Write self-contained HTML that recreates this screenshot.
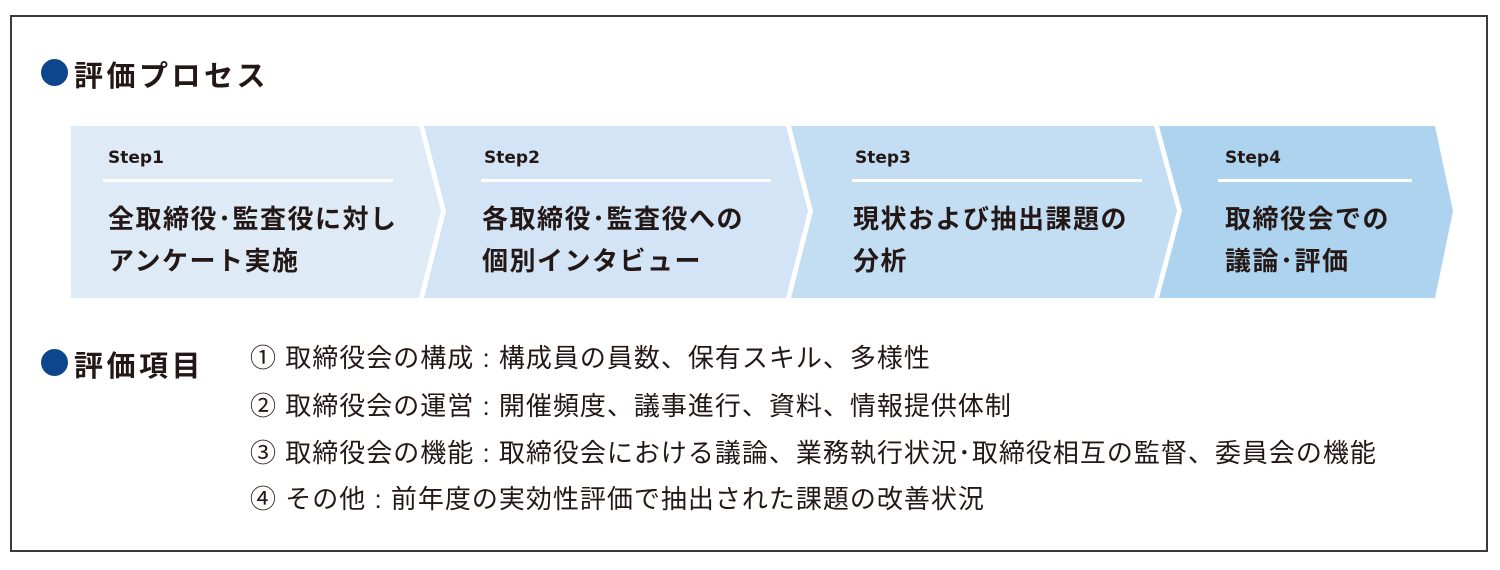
<!DOCTYPE html>
<html><head><meta charset="utf-8"><style>
body{margin:0;width:1500px;height:570px;background:#fff;position:relative;font-family:"Liberation Sans","Noto Sans CJK JP",sans-serif;color:#231815;overflow:hidden}
.box{position:absolute;left:10px;top:15px;width:1478px;height:537px;border:2px solid #3a3a3a;box-sizing:border-box}
.t{position:absolute;white-space:nowrap}
.dot{position:absolute;width:27px;height:27px;border-radius:50%;background:#0d468c}
.h{font-size:29px;font-weight:bold;letter-spacing:3.5px}
.s{font-size:17px;font-weight:bold;font-family:"DejaVu Sans","Noto Sans CJK JP",sans-serif}
.m{font-size:26px;font-weight:bold;line-height:42px;letter-spacing:1.5px}
.ln{position:absolute;height:3px;background:#fff;top:179px}
.i{font-size:26px;line-height:26px;letter-spacing:1px}
</style></head><body>
<div class="box"></div>
<div class="dot" style="left:41px;top:59px"></div>
<div class="t h" style="left:74px;top:53px">評価プロセス</div>
<svg style="position:absolute;left:0;top:0" width="1500" height="570">
<polygon points="71,126 419,126 441,211 419,298 71,298" fill="#deebf7"/>
<polygon points="424,126 786,126 808,211 786,298 424,298 446,211" fill="#d2e4f5"/>
<polygon points="791,126 1154,126 1177,211 1154,298 791,298 813,211" fill="#c3ddf2"/>
<polygon points="1159,126 1435,126 1453,211 1435,298 1159,298 1182,211" fill="#aed3ef"/>
</svg>
<div class="t s" style="left:108px;top:148px">Step1</div>
<div class="t s" style="left:484px;top:148px">Step2</div>
<div class="t s" style="left:855px;top:148px">Step3</div>
<div class="t s" style="left:1225px;top:148px">Step4</div>
<div class="ln" style="left:103px;width:290px"></div>
<div class="ln" style="left:481px;width:290px"></div>
<div class="ln" style="left:852px;width:290px"></div>
<div class="ln" style="left:1218px;width:194px"></div>
<div class="t m" style="left:108px;top:198px">全取締役･監査役に対し<br>アンケート実施</div>
<div class="t m" style="left:482px;top:198px">各取締役･監査役への<br>個別インタビュー</div>
<div class="t m" style="left:853px;top:198px">現状および抽出課題の<br>分析</div>
<div class="t m" style="left:1225px;top:198px">取締役会での<br>議論･評価</div>
<div class="dot" style="left:41px;top:349px"></div>
<div class="t h" style="left:74px;top:343px">評価項目</div>
<div class="t i" style="left:250px;top:345px">① 取締役会の構成 : 構成員の員数、保有スキル、多様性</div>
<div class="t i" style="left:250px;top:393px">② 取締役会の運営 : 開催頻度、議事進行、資料、情報提供体制</div>
<div class="t i" style="left:250px;top:440px">③ 取締役会の機能 : 取締役会における議論、業務執行状況･取締役相互の監督、委員会の機能</div>
<div class="t i" style="left:250px;top:486px">④ その他 : 前年度の実効性評価で抽出された課題の改善状況</div>
</body></html>
